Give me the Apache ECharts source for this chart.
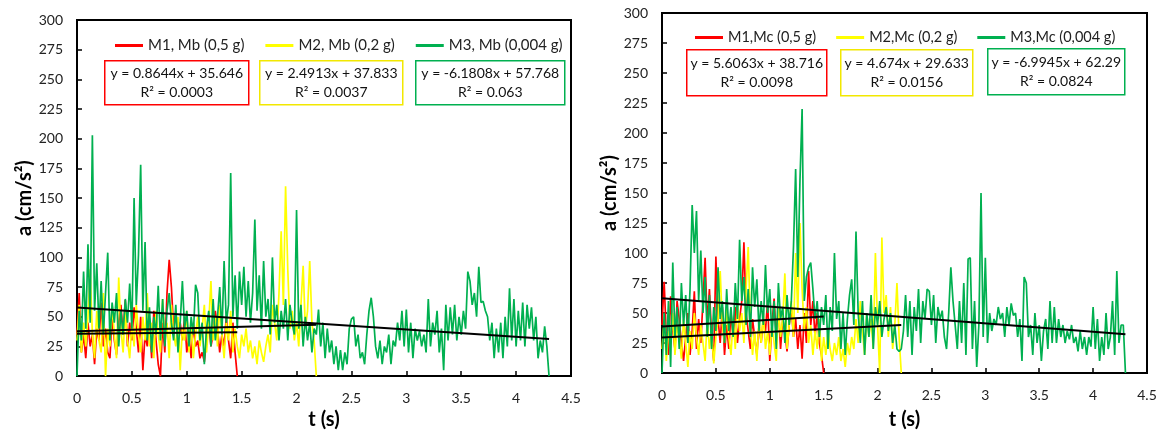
<!DOCTYPE html>
<html>
<head>
<meta charset="utf-8">
<script src="https://cdn.jsdelivr.net/npm/echarts@6/dist/echarts.min.js"></script>
<style>
  html, body { margin: 0; padding: 0; background: #fff; }
  #chart { width: 1161px; height: 435px; }
</style>
</head>
<body>
<div id="chart"></div>
<script>
// Sampling step of every record (s)
const DT = 0.02;

// Axis ticks
const T_MIN = 0, T_MAX = 4.5, T_STEP = 0.5;
const A_MIN = 0, A_MAX = 300, A_STEP = 25;

// Series names
const namesMb = ['M1, Mb (0,5 g)', 'M2, Mb (0,2 g)', 'M3, Mb (0,004 g)'];
const namesMc = ['M1,Mc (0,5 g)', 'M2,Mc (0,2 g)', 'M3,Mc (0,004 g)'];

// Acceleration records, Mb (cm/s^2), one value every DT seconds from t = 0
const mbM1 = [35,70,20,35,15,45,25,35,10,40,30,62,25,40,20,15,50,30,18,45,
  60,35,64,25,45,30,58,40,20,50,5,35,25,45,15,55,30,10,0,45,
  20,70,98,75,40,55,25,45,30,50,20,35,15,45,25,30,15,20,12,30,
  45,25,35,55,40,20,35,25,50,30,15,45,20,0];
const mbM2 = [30,60,20,45,25,50,90,35,15,55,30,20,70,0,40,25,60,35,15,83,
  40,20,55,30,15,45,25,60,35,20,50,30,70,25,45,15,55,35,20,65,
  30,45,15,60,35,25,50,5,40,30,55,20,45,15,35,50,25,40,60,20,
  45,80,30,50,25,60,35,15,45,30,55,20,40,25,15,35,25,40,20,30,
  15,25,10,30,20,12,25,35,20,60,45,30,70,122,60,160,90,40,55,30,
  45,25,60,93,40,55,97,45,30,0];
const mbM3 = [0,55,30,88,40,111,45,203,55,95,40,80,35,70,104,30,62,45,70,25,
  55,35,65,45,78,40,150,60,102,178,55,113,30,58,20,50,35,76,30,65,
  25,55,70,45,30,60,20,45,80,40,55,25,50,35,77,70,30,45,10,40,
  55,25,65,30,50,75,35,97,45,60,171,50,85,40,88,60,92,50,80,45,
  70,132,55,85,40,97,50,65,35,100,45,60,30,55,40,65,30,60,45,35,
  140,40,60,25,50,30,45,20,40,35,56,25,45,15,40,20,30,10,25,5,
  22,5,20,10,40,48,50,25,35,15,20,10,35,55,66,50,25,15,30,10,
  25,20,35,10,30,25,45,30,55,25,56,20,45,15,40,30,38,25,35,20,
  65,25,45,35,55,20,40,5,60,30,58,35,60,30,50,35,55,40,88,80,
  60,70,50,92,62,63,55,50,30,45,15,40,20,45,15,50,25,74,30,65,
  25,55,30,62,25,60,40,58,30,50,15,30,20,42,25,0];

// Acceleration records, Mc (cm/s^2), one value every DT seconds from t = 0
const mcM1 = [40,76,30,15,64,35,20,60,45,25,10,30,50,15,35,68,20,45,25,60,
  96,40,70,30,10,97,45,25,55,15,40,20,50,30,55,25,45,60,109,50,
  35,20,45,30,15,40,25,45,35,60,10,40,62,30,55,20,45,35,18,40,
  55,30,45,20,40,12,50,25,85,40,60,30,50,25,15,0];
const mcM2 = [20,45,10,35,25,50,15,40,30,12,45,25,5,35,20,50,30,15,40,25,
  10,45,20,35,8,30,45,85,40,25,55,30,15,45,20,60,35,50,25,70,
  105,40,15,35,10,45,25,50,20,35,15,40,25,10,55,30,45,83,20,40,
  60,30,100,50,125,70,35,55,25,40,15,35,20,45,10,30,15,35,20,10,
  25,15,30,10,20,5,25,15,30,20,45,25,60,35,15,50,30,45,20,100,
  40,0,113,50,65,30,55,20,40,75,30,0];
const mcM3 = [0,50,15,60,5,92,30,55,20,75,40,65,25,70,140,100,135,60,102,50,
  80,30,65,20,55,35,88,45,60,25,70,35,55,30,75,45,111,60,80,40,
  70,30,88,55,78,35,60,40,90,50,70,30,60,20,75,45,55,25,65,40,
  60,105,170,80,160,220,60,80,88,92,70,45,60,30,55,40,65,20,55,35,
  100,45,60,20,50,15,45,65,78,40,118,50,25,60,15,50,30,65,20,55,
  40,60,30,45,55,35,50,25,40,20,18,20,35,65,30,60,15,55,35,70,
  25,60,45,70,68,40,65,25,55,45,52,30,20,50,88,60,40,20,60,25,
  75,15,95,96,20,60,5,40,150,30,96,25,50,35,45,40,55,45,50,30,
  55,40,58,48,50,30,45,10,80,75,30,40,15,50,25,40,10,35,45,20,
  60,25,55,25,45,30,40,25,35,28,40,25,30,18,35,20,30,15,30,22,
  55,20,45,10,30,15,50,20,30,60,15,85,25,40,40,0];

// Linear fits: slope, intercept, R^2
const fitMb = [[0.8644, 35.646, '0.0003'], [2.4913, 37.833, '0.0037'], [-6.1808, 57.768, '0.063']];
const fitMc = [[5.6063, 38.716, '0.0098'], [4.674, 29.633, '0.0156'], [-6.9945, 62.29, '0.0824']];

const COLORS = ['#ff0000', '#ffff00', '#00b050'];
const FONT = 'Lato, "Open Sans", sans-serif';

function toPoints(values) {
  return values.map((v, i) => [+(i * DT).toFixed(2), v]);
}

function axisPair(gridIndex, nameGapX, labelMarginX, nameGapY) {
  const common = {
    gridIndex: gridIndex,
    type: 'value',
    axisLine: { onZero: false, lineStyle: { color: '#000', width: 2 } },
    axisTick: { inside: true, length: 5, lineStyle: { color: '#000', width: 1.5 } },
    axisLabel: { color: '#222', fontSize: 14, fontFamily: FONT },
    splitLine: { show: false },
    nameLocation: 'middle',
    nameTextStyle: { color: '#000', fontSize: 20, fontWeight: 'bold', fontFamily: FONT }
  };
  const x = Object.assign({}, common, {
    min: T_MIN, max: T_MAX, interval: T_STEP, name: 't (s)', nameGap: nameGapX,
    axisLabel: Object.assign({}, common.axisLabel, { margin: labelMarginX })
  });
  const y = Object.assign({}, common, {
    min: A_MIN, max: A_MAX, interval: A_STEP, name: 'a (cm/s²)', nameGap: nameGapY,
    axisLabel: Object.assign({}, common.axisLabel, { margin: 14 })
  });
  return [x, y];
}

function panelSeries(gridIndex, names, records, fits) {
  const out = [];
  records.forEach((vals, k) => {
    out.push({
      name: names[k], type: 'line', xAxisIndex: gridIndex, yAxisIndex: gridIndex,
      data: toPoints(vals), showSymbol: false, symbol: 'none',
      lineStyle: { color: COLORS[k], width: 1.7 }, itemStyle: { color: COLORS[k] },
      z: 2 + k
    });
  });
  records.forEach((vals, k) => {
    const tEnd = +((vals.length - 1) * DT).toFixed(2);
    const [m, b] = fits[k];
    out.push({
      name: 'fit ' + names[k], type: 'line', xAxisIndex: gridIndex, yAxisIndex: gridIndex,
      data: [[0, b], [tEnd, m * tEnd + b]], showSymbol: false, symbol: 'none',
      lineStyle: { color: '#000', width: 2 }, z: 10
    });
  });
  return out;
}

function fitText(fit) {
  const [m, b, r2] = fit;
  return 'y = ' + m + 'x + ' + b + '\nR² = ' + r2;
}

function eqBox(left, top, w, h, color, fit) {
  return {
    type: 'group', left: left, top: top, z: 20,
    children: [
      { type: 'rect', shape: { x: 0, y: 0, width: w, height: h },
        style: { fill: '#fff', stroke: color, lineWidth: 1.5 } },
      { type: 'text', x: w / 2, y: h / 2,
        style: { text: fitText(fit), align: 'center', verticalAlign: 'middle',
                 font: '14px ' + FONT, lineHeight: 19, fill: '#111' } }
    ]
  };
}

const [x0, y0] = axisPair(0, 26, 15, 42);
const [x1, y1] = axisPair(1, 37, 15, 41);

const legendBase = {
  icon: 'rect', itemWidth: 28, itemHeight: 3,
  textStyle: { color: '#222', fontFamily: FONT }
};

const option = {
  animation: false,
  textStyle: { fontFamily: FONT },
  grid: [
    { left: 77, top: 20, width: 494, height: 366, show: true, borderColor: '#000', borderWidth: 2 },
    { left: 662, top: 13, width: 485, height: 362, show: true, borderColor: '#000', borderWidth: 2 }
  ],
  xAxis: [x0, x1],
  yAxis: [y0, y1],
  legend: [
    Object.assign({}, legendBase, { left: 110, top: 33, itemGap: 21, data: namesMb,
      textStyle: Object.assign({}, legendBase.textStyle, { fontSize: 15 }) }),
    Object.assign({}, legendBase, { left: 690, top: 25, itemGap: 20, data: namesMc,
      textStyle: Object.assign({}, legendBase.textStyle, { fontSize: 14.5 }) })
  ],
  series: [].concat(
    panelSeries(0, namesMb, [mbM1, mbM2, mbM3], fitMb),
    panelSeries(1, namesMc, [mcM1, mcM2, mcM3], fitMc)
  ),
  graphic: [
    eqBox(104, 60, 144, 44, COLORS[0], fitMb[0]),
    eqBox(259, 60, 143, 44, '#f2e800', fitMb[1]),
    eqBox(415, 60, 149, 44, COLORS[2], fitMb[2]),
    eqBox(686, 49, 140, 46, COLORS[0], fitMc[0]),
    eqBox(840, 49, 132, 46, '#f2e800', fitMc[1]),
    eqBox(987, 48, 137, 46, COLORS[2], fitMc[2])
  ]
};

const chart = echarts.init(document.getElementById('chart'), null, { renderer: 'canvas' });
chart.setOption(option);
</script>
</body>
</html>
